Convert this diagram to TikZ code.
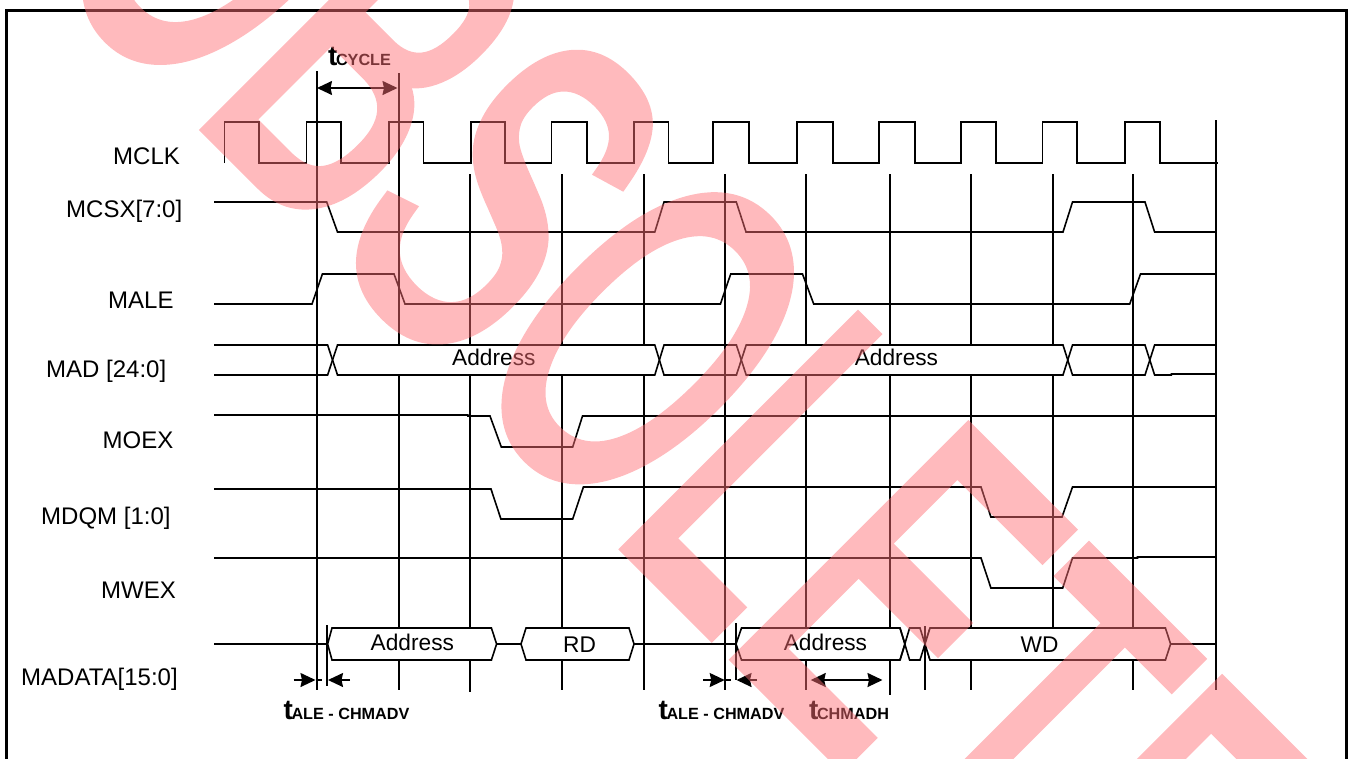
\documentclass[tikz,border=0pt]{standalone}
\usepackage{fontspec}
\setmainfont{Liberation Sans}
\newfontfamily\markfont[FakeBold=3]{Liberation Sans}
\usetikzlibrary{arrows.meta,calc}

\newcommand{\tlabel}[1]{{\bfseries\fontsize{28}{28}\selectfont t\kern-1.5pt\fontsize{16.2}{16.2}\selectfont #1}}

\begin{document}
\begin{tikzpicture}[
  x=1pt,
  y=-1pt,
  >={Stealth[length=15pt,width=14pt,inset=1.5pt]},
  line join=miter,
  wave/.style={line width=1.6pt},
  grid/.style={line width=1.6pt},
  bus/.style={line width=1.6pt, fill=white},
  every node/.style={inner sep=0pt, anchor=base west},
  signame/.style={font=\fontsize{24}{24}\selectfont},
  field/.style={font=\fontsize{22.7}{22.7}\selectfont}
]
  \path[clip,use as bounding box] (0,0) rectangle (1348,758);

  % Outer frame, open at the bottom
  \draw[line width=3pt] (6,775) -- (6,10) -- (1346,10) -- (1346,775);

  % Grid lines from the clock edges
  \draw[grid] (317,71) -- (317,690);
  \draw[grid] (399,73) -- (399,690);
  \foreach \x/\yend in {470/692,562/690,644/690,725/690,806/690,890/695,971/690,1053/628,1133/690}
    \draw[grid] (\x,174) -- (\x,\yend);
  \draw[grid] (1216,120) -- (1216,690);
  \draw[grid] (925,626) -- (925,690);
  \draw[grid] (327,625) -- (327,686);
  \draw[grid] (736,623) -- (736,680);

  % MCLK
  \draw[wave] (224.5,163) -- (224.5,122) -- (259,122) -- (259,163)
    -- (306.5,163) -- (306.5,122) -- (341,122) -- (341,163)
    -- (389,163) -- (389,122) -- (423.5,122) -- (423.5,163)
    -- (471,163) -- (471,122) -- (505,122) -- (505,163)
    -- (551.6,163) -- (551.6,122) -- (587,122) -- (587,163)
    -- (634,163) -- (634,122) -- (668.5,122) -- (668.5,163)
    -- (713,163) -- (713,122) -- (749,122) -- (749,163)
    -- (797,163) -- (797,122) -- (833,122) -- (833,163)
    -- (879,163) -- (879,122) -- (915,122) -- (915,163)
    -- (961,163) -- (961,122) -- (996,122) -- (996,163)
    -- (1042.5,163) -- (1042.5,122) -- (1077,122) -- (1077,163)
    -- (1125,163) -- (1125,122) -- (1160,122) -- (1160,163) -- (1218,163);

  % MCSX[7:0]
  \draw[wave] (214,202) -- (326.7,202) -- (337.5,232) -- (654.8,232) -- (664,202)
    -- (736.3,202) -- (746,232) -- (1063,232) -- (1072.5,202)
    -- (1145,202) -- (1154.6,232) -- (1216,232);

  % MALE
  \draw[wave] (214,304) -- (312,304) -- (322.4,274) -- (394,274) -- (405,304)
    -- (720.4,304) -- (730.7,274) -- (802.5,274) -- (813.7,304)
    -- (1129.7,304) -- (1140.5,274) -- (1216,274);

  % MAD [24:0]
  \fill[white] (337.5,345) rectangle (654.8,375);
  \fill[white] (746.2,345) rectangle (1063,375);
  \draw[wave] (214,345) -- (327.6,345) -- (337.5,375) -- (654.8,375) -- (664,345)
    -- (736.4,345) -- (746.2,375) -- (1063,375) -- (1072.5,345)
    -- (1145,345) -- (1154.6,375) -- (1171.4,375) -- (1171.4,374) -- (1216,374);
  \draw[wave] (214,375) -- (327.6,375) -- (337.5,345) -- (654.8,345) -- (664,375)
    -- (736.4,375) -- (746.2,345) -- (1063,345) -- (1072.5,375)
    -- (1145,375) -- (1154.6,345) -- (1216,345);

  % MOEX
  \draw[wave] (214,415) -- (467.8,415) -- (467.8,416) -- (490,416) -- (501.3,447)
    -- (572.7,447) -- (582.5,416) -- (1216,416);

  % MDQM [1:0]
  \draw[wave] (214,489) -- (491,489) -- (500.9,519) -- (572.7,519) -- (583.4,487)
    -- (981,487) -- (990.9,517) -- (1062,517) -- (1072.5,487) -- (1216,487);

  % MWEX
  \draw[wave] (214,558) -- (981,558) -- (990.9,588) -- (1062.7,588) -- (1072.5,558)
    -- (1137.5,558) -- (1137.5,557) -- (1216,557);

  % MADATA[15:0]
  \draw[wave] (214,644) -- (327,644);
  \draw[bus] (327.6,644) -- (332,628) -- (491.4,628) -- (496.6,644) -- (491.4,660) -- (332,660) -- cycle;
  \draw[wave] (496.6,644) -- (521,644);
  \draw[bus] (521,644) -- (526,628) -- (629,628) -- (634,644) -- (629,660) -- (526,660) -- cycle;
  \draw[wave] (634,644) -- (736,644);
  \draw[bus] (736,644) -- (741.5,628) -- (900,628) -- (905,644) -- (900,660) -- (741.5,660) -- cycle;
  \draw[wave] (900,628) -- (909.6,660) -- (920,660) -- (930,628);
  \draw[wave] (900,660) -- (909.6,628) -- (920,628) -- (930,660);
  \draw[bus] (925,644) -- (930,628) -- (1165.4,628) -- (1170.6,644) -- (1165.4,660) -- (930,660) -- cycle;
  \draw[wave] (1170.6,644) -- (1216,644);

  % Timing arrows
  \coordinate (cycA) at (317,88);
  \coordinate (cycB) at (397.5,88);
  \draw[<->, wave] (cycA) -- (cycB);

  \coordinate (ale1) at (293.6,680);
  \coordinate (ale2) at (315.5,680);
  \coordinate (ale3) at (328,680);
  \coordinate (ale4) at (350,680);
  \draw[->, wave] (ale1) -- (ale2);
  \draw[->, wave] (ale4) -- (ale3);
  \draw[wave] (ale2) -- ($(ale2)!.55!(ale3)$);

  \coordinate (ale5) at (703,680);
  \coordinate (ale6) at (724.7,680);
  \coordinate (ale7) at (736.5,680);
  \coordinate (ale8) at (756.5,680);
  \draw[->, wave] (ale5) -- (ale6);
  \draw[->, wave] (ale8) -- (ale7);
  \draw[wave] (ale6) -- ($(ale6)!.55!(ale7)$);

  \coordinate (hld1) at (810.7,680);
  \coordinate (hld2) at (882.5,680);
  \draw[<->, wave] (hld1) -- (hld2);

  % Signal names
  \node[signame] (mclk) at (113,164) {MCLK};
  \node[signame] (mcsx) at (66,217.5) {MCSX[7:0]};
  \node[signame] (male) at (108,308) {MALE};
  \node[signame] (mad) at (46,377) {MAD [24:0]};
  \node[signame] (moex) at (102.5,448.3) {MOEX};
  \node[signame] (mdqm) at (41,524.7) {MDQM [1:0]};
  \node[signame] (mwex) at (101,598) {MWEX};
  \node[signame] (madata) at (21,685.7) {MADATA[15:0]};

  % Bus fields
  \node[field] (adr1) at (452,365) {Address};
  \node[field] (adr2) at (854.6,365) {Address};
  \node[field] (adr3) at (370.5,650.7) {Address};
  \node[field] (rd) at (563,652) {RD};
  \node[field] (adr4) at (783.6,650.7) {Address};
  \node[field] (wd) at (1020.5,652) {WD};

  % Timing labels
  \node (tcyc) at (328,65) {\tlabel{CYCLE}};
  \node (tale1) at (283.5,719) {\tlabel{ALE - CHMADV}};
  \node (tale2) at (658.5,719) {\tlabel{ALE - CHMADV}};
  \node (thld) at (809,719) {\tlabel{CHMADH}};

  % Watermark
  \definecolor{markred}{RGB}{255,111,118}
  \begin{scope}[transparency group, opacity=.48]
    \node[rotate=-45, xscale=.595, transform shape, text=markred, font=\markfont\fontsize{472}{472}\selectfont] (stamp) at (36,-43) {OBSOLETE};
  \end{scope}
\end{tikzpicture}
\end{document}
